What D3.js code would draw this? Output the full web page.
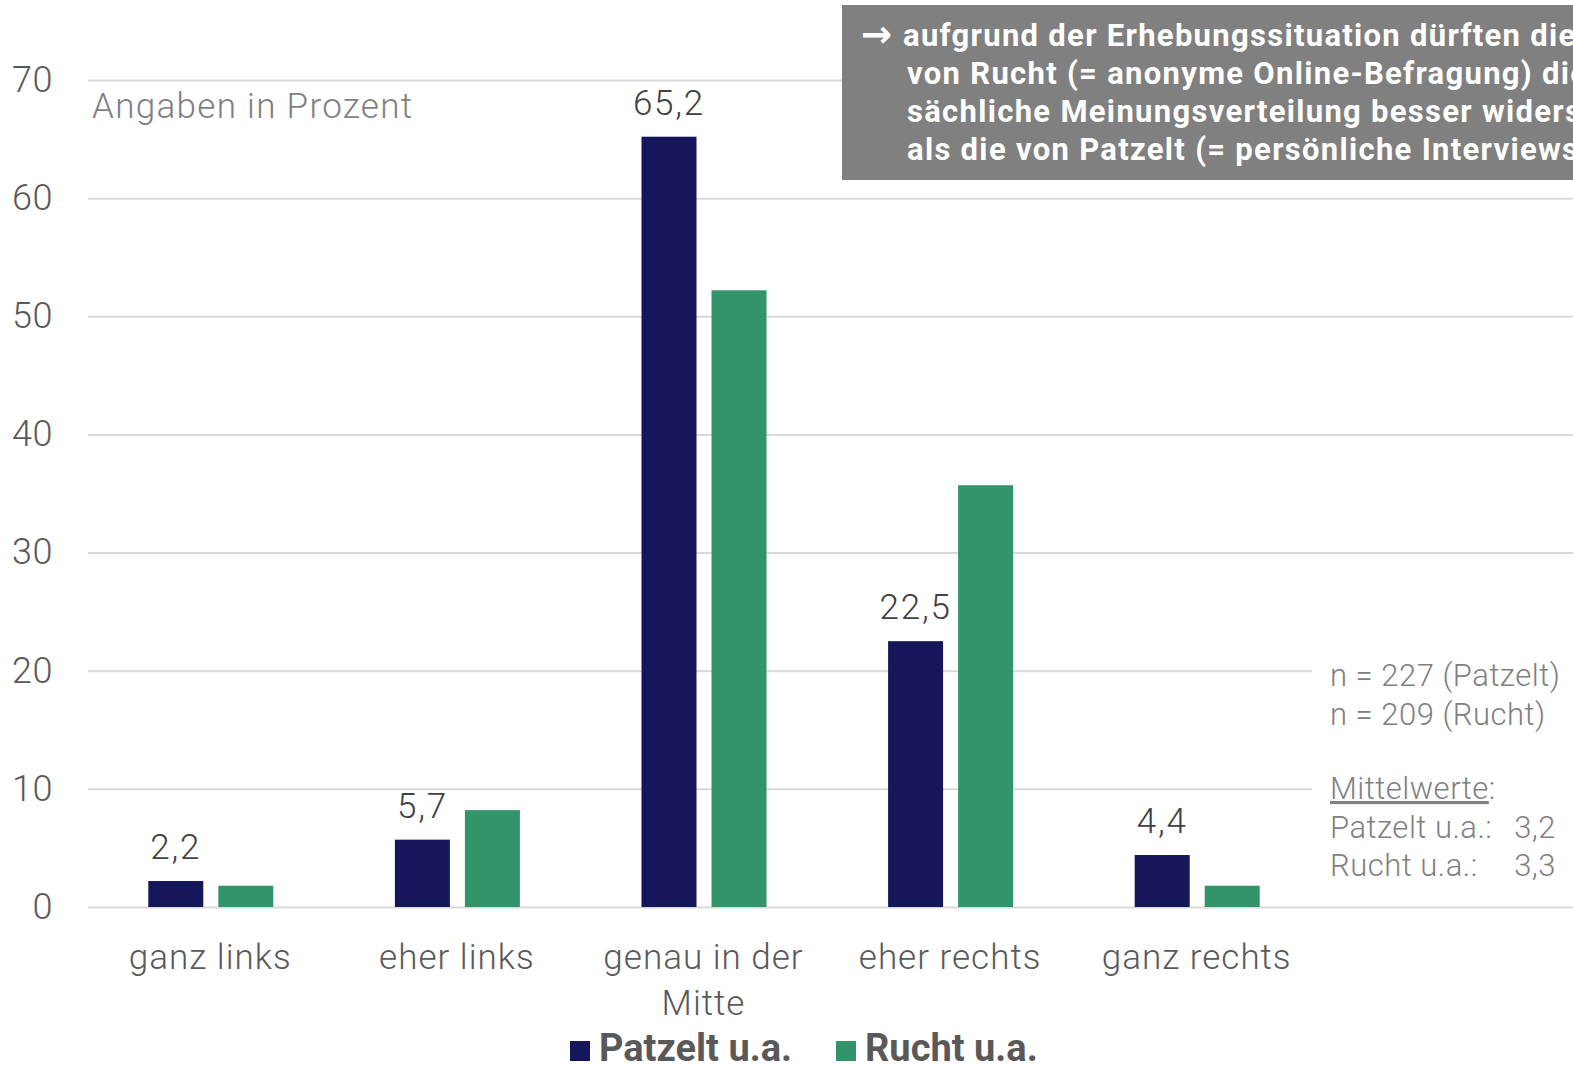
<!DOCTYPE html>
<html><head><meta charset="utf-8">
<script src="https://cdn.jsdelivr.net/npm/d3@7"></script>
<style>
html,body{margin:0;padding:0;background:#fff;overflow:hidden;}
svg{display:block;}
</style></head>
<body>
<svg id="chart" width="1573" height="1067"></svg>
<script>
const categories = [["ganz links"], ["eher links"], ["genau in der", "Mitte"], ["eher rechts"], ["ganz rechts"]];
const seriesNames = ["Patzelt u.a.", "Rucht u.a."];
const patzelt = [2.2, 5.7, 65.2, 22.5, 4.4];
const rucht = [1.8, 8.2, 52.2, 35.7, 1.8];
const yTicks = [0, 10, 20, 30, 40, 50, 60, 70];
const colors = ["#16165a", "#32946a"];
const noteLines = ["aufgrund der Erhebungssituation dürften die Daten",
  "von Rucht (= anonyme Online-Befragung) die tat-",
  "sächliche Meinungsverteilung besser widerspiegeln",
  "als die von Patzelt (= persönliche Interviews)"];
const sideNotes = ["n = 227 (Patzelt)", "n = 209 (Rucht)"];
const meanNotes = [["Patzelt u.a.:", "3,2"], ["Rucht u.a.:", "3,3"]];

const svg = d3.select("#chart");
const font = "Roboto, Arial, sans-serif";
const x0 = d3.scaleBand().domain(d3.range(categories.length)).range([87, 1320]).paddingInner(0).paddingOuter(0);
const y = d3.scaleLinear().domain([0, 70]).range([907, 80]);

// gridlines
svg.append("g").selectAll("line").data(yTicks).join("line")
  .attr("x1", 88).attr("x2", 1573)
  .attr("y1", d => y(d) + 0.5).attr("y2", d => y(d) + 0.5)
  .attr("stroke", "#d9d9d9").attr("stroke-width", 2);

// y labels
svg.append("g").selectAll("text").data(yTicks).join("text")
  .attr("x", 53).attr("y", d => y(d)).attr("dy", "0.33em")
  .attr("text-anchor", "end").attr("font-family", font).attr("font-weight", 300)
  .attr("font-size", 36).attr("letter-spacing", 0.5).attr("fill", "#595959").text(d => d);

svg.append("text").attr("x", 92).attr("y", 118).attr("font-family", font).attr("font-weight", 300)
  .attr("font-size", 35).attr("letter-spacing", 1.3).attr("fill", "#7f7f7f").text("Angaben in Prozent");

// bars
const barW = 55;
const series = [patzelt, rucht];
series.forEach((vals, si) => {
  svg.append("g").selectAll("rect").data(vals).join("rect")
    .attr("x", (d, i) => x0(i) + x0.bandwidth() / 2 - 62.5 + (si === 0 ? 0 : 70) + 0.5)
    .attr("width", barW)
    .attr("y", d => y(d)).attr("height", d => y(0) - y(d))
    .attr("fill", colors[si]);
});

// value labels for Patzelt
const labelIdx = [0, 1, 2, 3, 4];
svg.append("g").selectAll("text").data(labelIdx).join("text")
  .attr("x", i => x0(i) + x0.bandwidth() / 2 - 62.5 + 0.5 + barW / 2)
  .attr("y", i => y(patzelt[i]) - 22)
  .attr("text-anchor", "middle").attr("font-family", font).attr("font-weight", 300)
  .attr("font-size", 35).attr("letter-spacing", 1.8).attr("fill", "#404040")
  .text(i => String(patzelt[i]).replace(".", ","));

// category labels
categories.forEach((lines, i) => {
  const t = svg.append("text").attr("text-anchor", "middle").attr("font-family", font).attr("font-weight", 300)
    .attr("font-size", 35).attr("letter-spacing", 1).attr("fill", "#595959");
  lines.forEach((l, j) => t.append("tspan").attr("x", x0(i) + x0.bandwidth() / 2).attr("y", 969 + j * 46).text(l));
});

// note box
svg.append("rect").attr("x", 842).attr("y", 5).attr("width", 740).attr("height", 175).attr("fill", "#808080");
svg.append("text").attr("x", 861).attr("y", 47).attr("font-family", "'DejaVu Sans', sans-serif")
  .attr("font-weight", 700).attr("font-size", 37).attr("fill", "#ffffff").text("\u2192");
const nt = svg.append("text").attr("font-family", "Roboto, sans-serif")
  .attr("font-weight", 700).attr("font-size", 31).attr("letter-spacing", 1.3).attr("fill", "#ffffff");
nt.append("tspan").attr("x", 903).attr("y", 46).text(noteLines[0]);
noteLines.slice(1).forEach((l, j) => nt.append("tspan").attr("x", 907).attr("y", 84 + j * 38).text(l));

// side notes
svg.append("rect").attr("x", 1312).attr("y", 648).attr("width", 261).attr("height", 235).attr("fill", "#fff");
sideNotes.forEach((s, j) => svg.append("text").attr("x", 1330).attr("y", 686 + j * 39)
  .attr("font-family", font).attr("font-weight", 300).attr("font-size", 31).attr("letter-spacing", 0.5).attr("fill", "#808080")
  .text(s));
const mt = svg.append("text").attr("x", 1330).attr("y", 799).attr("font-family", font).attr("font-weight", 300)
  .attr("font-size", 31).attr("letter-spacing", 0.5).attr("fill", "#808080");
mt.append("tspan").attr("text-decoration", "underline").text("Mittelwerte");
mt.append("tspan").text(":");
meanNotes.forEach((m, j) => {
  svg.append("text").attr("x", 1330).attr("y", 838 + j * 38).attr("font-family", font).attr("font-weight", 300)
    .attr("font-size", 31).attr("letter-spacing", 0.5).attr("fill", "#808080").text(m[0]);
  svg.append("text").attr("x", 1556).attr("y", 838 + j * 38).attr("text-anchor", "end").attr("font-family", font).attr("font-weight", 300)
    .attr("font-size", 31).attr("letter-spacing", 0.5).attr("fill", "#808080").text(m[1]);
});

// legend
const legX = [570, 836];
seriesNames.forEach((s, i) => {
  svg.append("rect").attr("x", legX[i]).attr("y", 1041).attr("width", 20).attr("height", 20).attr("fill", colors[i]);
  svg.append("text").attr("x", legX[i] + 29).attr("y", 1061).attr("font-family", "Roboto, sans-serif").attr("font-weight", 700)
    .attr("font-size", 38).attr("fill", "#595959").text(s);
});
</script>
</body></html>
